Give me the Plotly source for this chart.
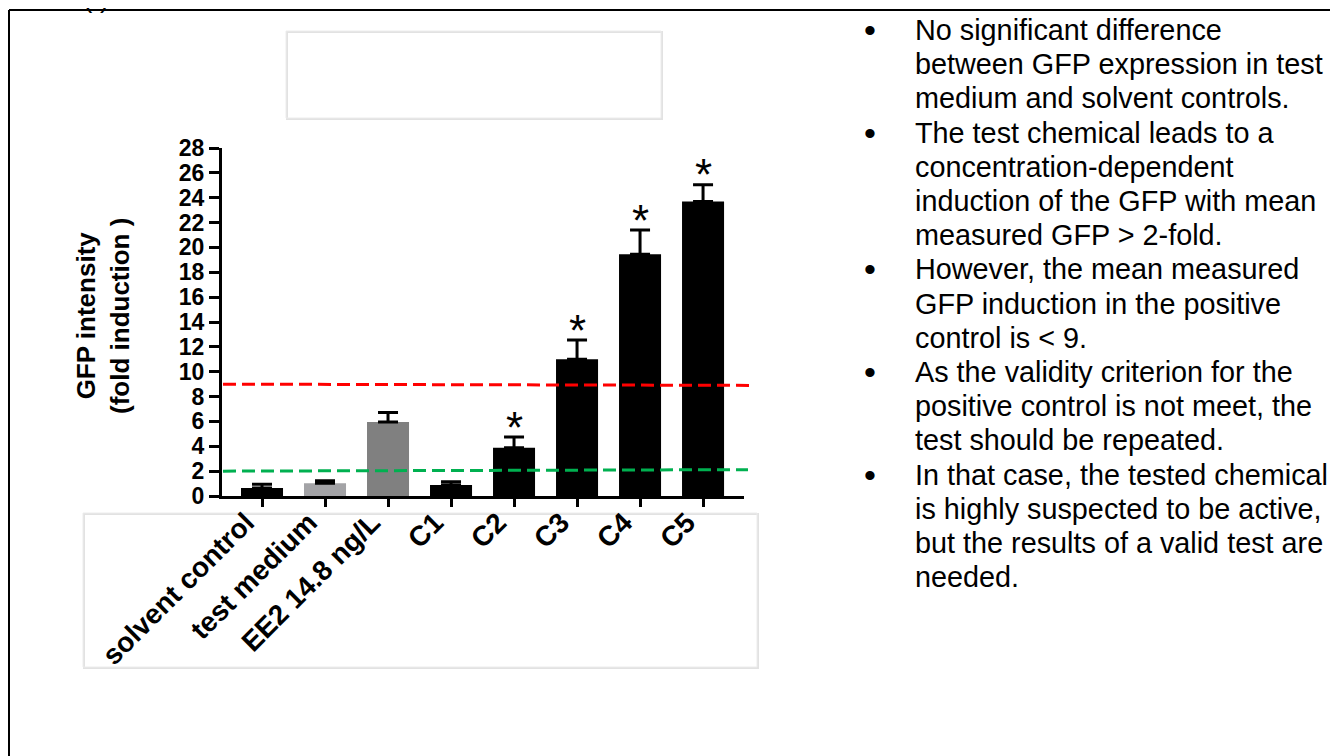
import plotly.graph_objects as go

# ---------------- data ----------------
categories = ["solvent control", "test medium", "EE2 14.8 ng/L", "C1", "C2", "C3", "C4", "C5"]
means = [0.65, 1.02, 5.96, 0.89, 3.89, 11.0, 19.45, 23.7]
errors = [0.30, 0.21, 0.75, 0.26, 0.85, 1.55, 1.95, 1.35]
bar_colors = ["#000000", "#a3a3a6", "#808080", "#000000", "#000000", "#000000", "#000000", "#000000"]
significant = [False, False, False, False, True, True, True, True]
y_ticks = list(range(0, 29, 2))
upper_limit = 9      # red dashed line
lower_limit = 2      # green dashed line

bullet_lines = [
    ("No significant difference", True),
    ("between GFP expression in test", False),
    ("medium and solvent controls.", False),
    ("The test chemical leads to a", True),
    ("concentration-dependent", False),
    ("induction of the GFP with mean", False),
    ("measured GFP &gt; 2-fold.", False),
    ("However, the mean measured", True),
    ("GFP induction in the positive", False),
    ("control is &lt; 9.", False),
    ("As the validity criterion for the", True),
    ("positive control is not meet, the", False),
    ("test should be repeated.", False),
    ("In that case, the tested chemical", True),
    ("is highly suspected to be active,", False),
    ("but the results of a valid test are", False),
    ("needed.", False),
]

# ---------------- layout geometry (page pixels) ----------------
OFF = 8                      # default body margin of the html page
W_FIG, H_FIG = 1338 - OFF, 756 - OFF
L, R_PX, T, B = 222, 744, 148, 496     # plot area in page pixels
PW, PH = R_PX - L, B - T
FONT = "Liberation Sans, Arial, sans-serif"


def px(xp):
    return (xp - L) / PW


def py(yp):
    return (B - yp) / PH


fig = go.Figure()
fig.add_trace(go.Bar(
    x=categories, y=means, width=0.667,
    marker=dict(color=bar_colors, line=dict(width=0)),
    error_y=dict(type="data", array=errors, arrayminus=[0] * len(errors), symmetric=False,
                 color="black", thickness=3, width=10),
    showlegend=False, hoverinfo="skip",
))

annotations = []
# significance asterisks
for c, m, e, s in zip(categories, means, errors, significant):
    if s:
        annotations.append(dict(x=c, y=m + e, xref="x", yref="y", text="*", showarrow=False,
                                xanchor="center", yanchor="middle", yshift=10,
                                font=dict(family=FONT, size=44, color="black")))

# y-axis title
annotations.append(dict(x=px(103), y=py(316), xref="paper", yref="paper",
                        text="GFP intensity<br>(fold induction )", textangle=-90,
                        showarrow=False, xanchor="center", yanchor="middle",
                        font=dict(family=FONT, size=26, color="black", weight="bold")))

# (f) label cut at the top
annotations.append(dict(x=px(96), y=py(15), xref="paper", yref="paper", text="(f)",
                        showarrow=False, xanchor="center", yanchor="bottom",
                        font=dict(family=FONT, size=28, color="black")))

# right-hand bullet text
for i, (txt, bullet) in enumerate(bullet_lines):
    yline = 30 + 34.2 * i
    annotations.append(dict(x=px(913), y=py(yline), xref="paper", yref="paper", text=txt,
                            showarrow=False, xanchor="left", yanchor="middle",
                            font=dict(family=FONT, size=28.8, color="black")))
    if bullet:
        annotations.append(dict(x=px(870), y=py(yline), xref="paper", yref="paper", text="•",
                                showarrow=False, xanchor="center", yanchor="middle",
                                font=dict(family=FONT, size=34, color="black")))

shapes = [
    # threshold lines
    dict(type="line", xref="paper", yref="paper", x0=px(223), x1=px(753),
         y0=upper_limit / 28, y1=(upper_limit - 0.1) / 28,
         line=dict(color="#ff0000", width=3, dash="13px,6px"), layer="above"),
    dict(type="line", xref="paper", yref="paper", x0=px(223), x1=px(748),
         y0=lower_limit / 28, y1=(lower_limit + 0.12) / 28,
         line=dict(color="#00b050", width=3, dash="13px,6px"), layer="above"),
    # empty legend box
    dict(type="rect", xref="paper", yref="paper", x0=px(287), x1=px(662), y0=py(32), y1=py(119),
         line=dict(color="#e2e2e2", width=2), layer="below"),
    dict(type="rect", xref="paper", yref="paper", x0=px(286), x1=px(661), y0=py(31), y1=py(118),
         line=dict(color="#ececec", width=1), layer="below"),
    # label box
    dict(type="rect", xref="paper", yref="paper", x0=px(84), x1=px(758), y0=py(514), y1=py(668),
         line=dict(color="#e2e2e2", width=2), layer="below"),
    dict(type="rect", xref="paper", yref="paper", x0=px(83), x1=px(757), y0=py(513), y1=py(667),
         line=dict(color="#ececec", width=1), layer="below"),
    # slide frame
    dict(type="line", xref="paper", yref="paper", x0=px(9), x1=px(1345), y0=py(10), y1=py(10),
         line=dict(color="black", width=2)),
    dict(type="line", xref="paper", yref="paper", x0=px(9), x1=px(9), y0=py(10), y1=py(770),
         line=dict(color="black", width=2)),
]

fig.update_layout(
    width=W_FIG, height=H_FIG,
    margin=dict(l=L - OFF, r=W_FIG - (R_PX - OFF), t=T - OFF, b=H_FIG - (B - OFF), pad=0),
    paper_bgcolor="white", plot_bgcolor="white",
    annotations=annotations, shapes=shapes,
    xaxis=dict(type="category", range=[-0.635, 7.65], showline=True, linecolor="black", linewidth=3,
               ticks="outside", ticklen=8, tickwidth=3, tickcolor="black", tickangle=-45,
               ticklabelstandoff=-12, ticklabelshift=-16,
               tickfont=dict(family=FONT, size=28, color="black", weight="bold"),
               showgrid=False, zeroline=False),
    yaxis=dict(range=[0, 28], tickvals=y_ticks, showline=True, linecolor="black", linewidth=3,
               ticks="outside", ticklen=10, tickwidth=3, tickcolor="black",
               tickfont=dict(family=FONT, size=23, color="black", weight="bold"),
               showgrid=False, zeroline=False),
)

fig.write_html("out.html")
